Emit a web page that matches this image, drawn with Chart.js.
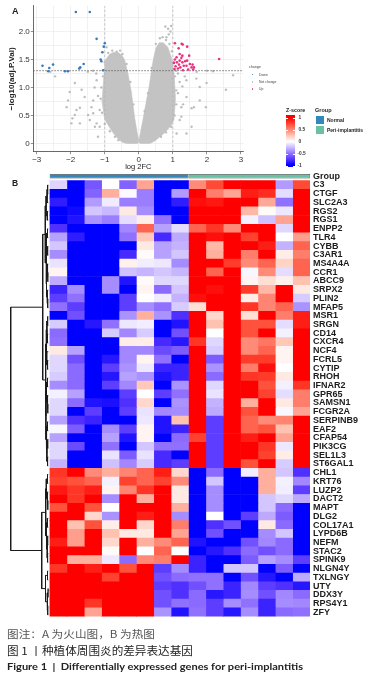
<!DOCTYPE html>
<html><head><meta charset="utf-8">
<script src="https://cdn.jsdelivr.net/npm/chart.js@4.4.1/dist/chart.umd.min.js"></script>
<style>
html,body{margin:0;padding:0;background:#fff;width:382px;height:679px;overflow:hidden;position:relative;font-family:"Liberation Sans",Arial,sans-serif}
canvas{position:absolute}
.t{position:absolute;white-space:nowrap;color:#222}
.fit{display:inline-block;transform-origin:left center}
</style></head><body>
<canvas id="volcano" width="382" height="175" style="left:0;top:0"></canvas>
<canvas id="dendro" width="50" height="465" style="left:0;top:160px"></canvas>
<canvas id="heat" width="382" height="465" style="left:0;top:160px"></canvas>

<div class="t" style="left:12px;top:5px;font:bold 9px 'Liberation Sans';line-height:12px">A</div>
<div class="t" style="left:12px;top:177px;font:bold 8.5px 'Liberation Sans';line-height:12px">B</div>

<!-- volcano legend -->
<div class="t" style="left:249px;top:65px;font:3.6px 'Liberation Sans';color:#444;line-height:4px">change</div>
<div class="t" style="left:251.5px;top:73.9px;width:1.6px;height:1.6px;border-radius:50%;background:#3a78b8"></div>
<div class="t" style="left:259px;top:72.7px;font:3.4px 'Liberation Sans';color:#444;line-height:4px">Down</div>
<div class="t" style="left:251.5px;top:81.2px;width:1.6px;height:1.6px;border-radius:50%;background:#bdbdbd"></div>
<div class="t" style="left:259px;top:80px;font:3.4px 'Liberation Sans';color:#444;line-height:4px">Not change</div>
<div class="t" style="left:251.5px;top:88.2px;width:1.6px;height:1.6px;border-radius:50%;background:#ee2f7e"></div>
<div class="t" style="left:259px;top:87px;font:3.4px 'Liberation Sans';color:#444;line-height:4px">Up</div>

<!-- z-score legend -->
<div class="t" style="left:286px;top:107px;font:bold 5.3px 'Liberation Sans';line-height:6px">Z-score</div>
<div class="t" style="left:286px;top:115px;width:9px;height:52px;background:linear-gradient(to bottom,#ff0000 0%,#ff0000 5%,#ff4a35 17%,#ff8a78 29%,#ffc8b8 40%,#ffffff 51%,#c8b8ff 63%,#9070ff 74%,#5030ff 86%,#0000ff 96%,#0000ff 100%)"></div>
<div id="zticks"></div>
<div class="t" style="left:315px;top:106.5px;font:bold 5.5px 'Liberation Sans';line-height:6px">Group</div>
<div class="t" style="left:315.7px;top:116px;width:8.3px;height:8.3px;background:#3288bd"></div>
<div class="t" style="left:327px;top:117px;font:bold 5px 'Liberation Sans';line-height:6px">Normal</div>
<div class="t" style="left:315.7px;top:125.7px;width:8.3px;height:8.3px;background:#66c2a5"></div>
<div class="t" style="left:327px;top:127px;font:bold 5px 'Liberation Sans';line-height:6px">Peri-implantitis</div>

<!-- captions -->
<div class="t" style="left:7.3px;top:627.5px;font:10.5px 'Noto Sans CJK SC';line-height:12px;color:#555"><span class="fit" data-w="148">图注：A 为火山图，B 为热图</span></div>
<div class="t" style="left:7.3px;top:644px;font:11px 'Noto Sans CJK SC';line-height:12px;color:#222"><span class="fit" data-w="186">图 1 丨种植体周围炎的差异表达基因</span></div>
<div class="t" style="left:7.3px;top:661px;font:bold 9.5px 'Lato';line-height:12px;color:#222"><span class="fit" data-w="296">Figure 1 &nbsp;|&nbsp; Differentially expressed genes for peri-implantitis</span></div>

<script>
// ---------------- Volcano data ----------------
const downGenes = [[-1.85,2.35],[-1.44,2.35],[-1.24,1.87],[-1.0,1.79],[-1.03,1.73],[-1.07,1.63],[-1.12,1.5],[-1.1,1.47],[-1.05,1.31],[-1.62,1.42],[-1.75,1.34],[-1.72,1.36],[-2.52,1.41],[-2.83,1.39],[-2.63,1.35],[-2.66,1.29],[-2.17,1.29],[-2.08,1.29]];
const upGenes = [[1.06,1.79],[1.26,1.78],[1.29,1.77],[1.42,1.73],[1.17,1.70],[1.2,1.6],[1.28,1.57],[1.48,1.57],[1.06,1.5],[1.12,1.45],[1.2,1.48],[1.28,1.45],[1.36,1.47],[1.42,1.48],[1.5,1.42],[1.58,1.41],[1.62,1.36],[1.6,1.32],[1.45,1.32],[1.3,1.31],[1.15,1.34],[1.08,1.38],[1.18,1.41],[1.32,1.39],[1.03,1.44],[1.11,1.54],[1.25,1.53],[1.4,1.39],[1.55,1.36],[2.36,1.51],[1.05,1.33],[1.22,1.36]];
const otherGenes = [[-2.46,1.2],[-1.88,1.08],[-2.03,0.92],[-2.08,0.77],[-2.12,0.65],[-1.95,0.45],[-1.68,0.96],[-1.59,0.83],[-1.39,0.65],[-1.49,0.51],[-1.24,1.13],[-1.34,0.77],[-1.15,0.6],[-1.15,0.3],[-1.83,0.6],[-1.73,0.36],[-1.29,0.3],[-1.2,0.12],[-1.98,0.36],[-1.73,0.64],[-1.88,0.51],[-1.44,0.42],[-1.24,0.36],[-1.34,0.54],[-1.3,1.0],[-1.2,0.85],[-1.25,1.25],[-2.6,1.28],[-1.5,1.28],[-1.35,1.3],
  [1.55,0.63],[1.62,0.65],[1.97,0.65],[2.56,0.96],[2.77,1.22],[2.18,1.29],[1.79,1.01],[1.4,0.83],[1.25,0.48],[1.55,0.3],[1.79,0.77],[1.69,1.16],[1.4,1.13],[1.28,1.02],[1.15,1.25],[1.35,1.2],[1.99,1.08],[1.4,0.18],[1.11,0.18],[1.2,0.42],[1.25,0.65],[1.15,0.9],[1.3,0.7],[1.2,1.1],[1.1,1.3],[2.0,1.3],[1.7,1.28],
  [-0.9,1.62],[-0.78,1.66],[-0.65,1.64],[-0.55,1.66],[-0.48,1.6],[-0.36,1.42],[-0.25,1.1],[-0.16,0.7],[-1.0,1.45],[-1.05,1.2],[-1.1,1.0],[-1.12,0.8],[-1.08,0.55],[-1.0,0.35],[-0.85,0.22],[-0.7,0.12],[-0.6,0.06],[-0.95,1.72],
  [0.5,1.78],[0.62,1.88],[0.7,1.9],[0.8,1.85],[0.9,1.78],[0.97,1.65],[1.02,1.45],[1.06,1.2],[1.1,0.95],[1.1,0.7],[1.05,0.5],[0.95,0.3],[0.8,0.2],[0.65,0.12],[0.38,1.35],[0.27,0.9],[0.17,0.58],[0.78,2.09],[0.86,2.05],[0.95,2.1],[0.93,2.0],[0.81,1.9],[0.88,1.95]];
// dense cloud outline
const leftWingX     = [-1.08,-1.02,-0.97,-0.85,-0.73,-0.6,-0.5,-0.42,-0.32,-0.22,-0.12,-0.05,0];
const leftWingUpper = [0.75,1.25,1.5,1.6,1.63,1.62,1.58,1.5,1.25,0.92,0.45,0.2,0.05];
const leftWingLower = [0.75,0.5,0.4,0.28,0.17,0.08,0.03,0.01,0,0,0,0,0.02];
const rightWingX     = [0,0.05,0.12,0.23,0.3,0.36,0.42,0.5,0.6,0.72,0.85,0.95,1.03,1.08];
const rightWingUpper = [0.05,0.2,0.42,0.78,1.0,1.25,1.48,1.7,1.8,1.8,1.72,1.55,1.3,0.8];
const rightWingLower = [0.02,0,0,0,0,0.01,0.03,0.06,0.11,0.17,0.25,0.33,0.42,0.8];
const fcCutoffs = [-1, 1];
const pCutoff = 1.301;
const xTickValues = [-3,-2.5,-2,-1.5,-1,-0.5,0,0.5,1,1.5,2,2.5,3];
const yTickValues = [0,0.25,0.5,0.75,1,1.25,1.5,1.75,2,2.25];

// ---------------- Heatmap data ----------------
const genes = ["C3","CTGF","SLC2A3","RGS2","RGS1","ENPP2","TLR4","CYBB","C3AR1","MS4A4A","CCR1","ABCC9","SRPX2","PLIN2","MFAP5","MSR1","SRGN","CD14","CXCR4","NCF4","FCRL5","CYTIP","RHOH","IFNAR2","GPR65","SAMSN1","FCGR2A","SERPINB9","EAF2","CFAP54","PIK3CG","SEL1L3","ST6GAL1","CHL1","KRT76","LUZP2","DACT2","MAPT","DLG2","COL17A1","LYPD6B","NEFM","STAC2","SPINK9","NLGN4Y","TXLNGY","UTY","DDX3Y","RPS4Y1","ZFY"];
const sampleGroups = ["Normal","Normal","Normal","Normal","Normal","Normal","Normal","Normal","Peri-implantitis","Peri-implantitis","Peri-implantitis","Peri-implantitis","Peri-implantitis","Peri-implantitis","Peri-implantitis"];
const zscores = [
[-0.15,-1,-0.6,0,-0.55,0.4,-1,-1,0.5,0.75,1,1,1,-0.35,0.75],
[-1,-1,-0.55,0.35,-0.02,-0.45,-1,-0.35,1,0.55,0.4,0.9,0.85,-0.12,1],
[-0.85,-1,-0.35,-0.07,-0.45,-0.45,-1,-0.85,0.95,0.92,1,1,0.38,-0.5,1],
[-1,-0.95,-0.2,-0.25,0.1,-0.4,-1,-1,1,1,1,0.32,0.02,-0.08,1],
[-1,-0.9,-0.38,-0.45,-0.12,0.08,-0.5,-1,1,1,1,-0.05,-0.22,0.4,1],
[-0.75,-1,-1,-1,-0.42,0.65,-0.33,-0.12,0.65,0.82,0.5,1,1,-0.14,1],
[-0.33,-0.85,-1,-1,-0.5,0.25,-0.78,-0.3,1,0.95,1,0.78,1,0,0.42],
[-0.2,-1,-1,-1,-1,0.1,-0.33,-0.27,1,0.32,1,1,0.9,-0.27,0.65],
[-0.4,-1,-1,-1,-0.78,0.02,-0.33,-0.2,1,0.35,1,0.55,1,0.08,0.55],
[-0.1,-1,-1,-1,0.06,-0.06,-0.08,-0.4,1,1,0.8,0.5,0.65,0.2,0.65],
[0.05,-1,-1,-1,-0.22,-0.26,-0.2,-0.26,1,0.65,1,-0.03,0.5,-0.12,0.65],
[-0.3,-1,-1,-0.4,-0.9,0.02,-0.14,-0.14,1,1,1,0.05,0.15,0.07,0.28],
[-0.82,-0.4,-1,-0.4,-1,0.05,-0.52,-0.2,1,0.95,1,0.8,0.32,1,0.1],
[-0.7,-0.5,-1,-1,-0.7,0,-0.07,-0.27,0.95,1,1,0.08,0.52,1,-0.18],
[-0.5,-0.7,-1,-1,-0.7,-0.4,-0.5,-0.18,0.15,1,1,0.82,0.52,0.65,-0.38],
[-1,-0.62,-1,-1,-0.38,0.35,-0.38,-0.75,1,0.18,1,0.15,1,0.55,0.9],
[-0.18,-1,-0.88,-0.5,-0.08,-0.06,-1,-0.9,1,0.28,1,0.72,0.72,-0.12,0.9],
[-0.52,-1,-1,-0.18,-0.42,-0.18,-1,-0.62,1,0,1,0.72,1,-0.05,1],
[-0.5,-1,-1,-1,0.08,0.08,-0.78,-0.88,0.82,-0.14,1,0.5,0.58,0.25,1],
[0.1,-0.33,-1,-1,-0.42,-0.42,-0.65,-0.58,1,-0.18,1,0.5,0.65,0.05,1],
[-0.14,-0.62,-1,-0.88,-0.42,0.05,-0.5,-1,1,-0.58,1,0.8,0.8,0.05,1],
[-0.14,-0.52,-1,-0.7,-0.38,-0.08,-0.82,-0.82,1,-0.38,1,0.55,0.95,0,1],
[-0.18,-0.52,-1,-0.88,-0.33,-0.38,-0.9,-0.82,1,-0.52,1,0.82,0.8,0.1,1],
[-0.4,-0.52,-1,-0.7,-0.42,0.25,-1,-0.38,1,-0.14,1,1,0.72,-0.05,0.82],
[-0.05,-0.33,-1,-1,-0.7,0,-0.7,-0.5,1,-0.1,1,1,0.78,-0.12,0.55],
[-0.14,-0.52,-0.9,-0.92,-0.75,0.18,-1,-0.38,1,-0.27,1,0.35,1,0.1,0.55],
[-0.14,-1,-0.7,-1,-0.7,-0.1,-0.42,-0.4,1,-0.3,1,0.72,1,-0.03,0.4],
[-0.33,-0.75,-0.82,-1,-1,-0.08,-0.9,0.28,1,-0.7,1,0.65,0.5,0.52,1],
[-0.03,-0.58,-1,-0.4,-0.7,0.05,-0.9,-0.82,1,-0.7,1,0.65,0.72,0.28,1],
[-0.33,-1,-1,-0.33,-0.9,0.05,-1,-0.52,0.78,-0.7,1,0.9,1,0.4,1],
[-0.14,-0.65,-1,-0.5,-1,-0.2,-0.5,-0.5,1,-0.7,1,1,0.82,-0.08,1],
[-0.14,-1,-1,-0.1,-0.58,-0.1,-0.78,-1,1,-0.7,1,1,0.78,0.08,1],
[-0.27,-1,-1,-0.22,-0.42,-0.18,-0.78,-0.7,1,-0.7,1,0.72,1,-0.18,1],
[0.82,1,0.5,0.35,0.52,0.65,0.9,0.18,-1,-0.52,-1,-0.06,0.35,-0.2,-0.75],
[0.78,0.72,0.65,-0.05,0.78,0.65,0.78,0.5,-1,-0.2,-1,-1,0.35,-0.05,-0.42],
[0.92,0.82,0.9,0.05,0.52,0.82,1,0.1,-1,-0.4,-1,-1,0.35,-0.06,-0.7],
[1,0.82,1,-0.4,1,0.35,1,0.1,-1,-0.4,-1,-1,-0.2,-0.14,-0.3],
[0.72,1,0.72,0,1,1,1,0.35,-1,-0.4,-1,-1,-0.2,-0.52,-1],
[1,1,0.18,-0.38,1,0.9,1,-0.4,-1,0,-1,-0.7,-0.3,-0.58,-1],
[1,0.28,0.72,0.08,1,0.18,1,0.55,-1,-0.75,-0.62,-1,0.1,-0.52,-1],
[1,0.42,1,0.28,0.1,0.1,1,0.4,-1,-0.62,-1,-1,-0.4,-0.2,-1],
[0.9,0.42,1,0.18,1,0.35,0.5,0.65,-0.9,-1,-1,-0.62,-0.42,-0.52,-1],
[1,1,1,0.02,1,0,0.65,0,-1,-0.88,-0.75,-0.52,-0.62,-0.52,-1],
[1,0.35,0.35,-0.08,-0.52,0.5,0.55,1,-0.82,-1,-1,-0.58,-0.33,-0.4,-0.7],
[0.82,1,0.9,1,0.72,1,-0.7,-0.4,-0.82,-1,-0.2,-0.2,-1,-0.58,-1],
[1,1,1,0.78,1,1,-0.62,-0.52,-0.5,-0.5,-1,-0.62,-0.88,-1,-0.3],
[1,1,1,1,1,1,-0.7,-0.75,-0.62,-0.5,-0.82,-0.42,-0.7,-0.75,-0.88],
[1,1,1,1,1,1,-0.62,-0.75,-0.52,-0.88,-0.82,-0.4,-0.62,-0.42,-0.52],
[1,1,0.82,1,1,1,-0.62,-0.5,-0.52,-0.7,-0.4,-0.5,-0.82,-0.4,-0.42],
[1,1,0.4,1,1,1,-0.38,-0.9,-0.5,-0.7,-0.88,-0.4,-0.82,-0.52,-0.5]
];
// row dendrogram: [height, left, right]; leaves = gene row index
const rowTree = [37.8,
  [5.8,
    [3.2,
      [2.4,[1.5,[0.8,0,1],2],[1.2,3,4]],
      [2.2,[2.0,[1.0,5,6],[0.8,7,8]],[2.0,[1.2,9,[0.6,10,11]],[1.5,12,[0.7,13,14]]]]],
    [3.0,
      [2.4,[1.6,[0.8,15,16],[1.0,17,18]],[1.8,19,[0.9,20,21]]],
      [2.6,[2.0,[1.0,22,23],[1.2,24,[0.6,25,26]]],[2.3,[1.0,27,28],[1.6,[0.7,29,30],[0.9,31,32]]]]]],
  [6.8,
    [2.8,[2.2,[1.0,33,34],[1.3,35,[0.6,36,37]]],[2.0,[1.1,38,39],[1.5,[0.8,40,41],[0.9,42,43]]]],
    [3.0,[1.0,44,45],[1.4,[0.5,46,47],[0.7,48,49]]]]];

// ---------------- helpers ----------------
const zStops = [[-1,[0,0,255]],[-0.75,[80,48,255]],[-0.5,[144,112,255]],[-0.25,[200,184,255]],[0,[255,255,255]],[0.25,[255,200,184]],[0.5,[255,138,120]],[0.75,[255,74,53]],[1,[255,0,0]]];
function zColor(z){
  z = Math.max(-1, Math.min(1, z));
  for (let i=0;i<zStops.length-1;i++){
    const [a,ca]=zStops[i],[b,cb]=zStops[i+1];
    if (z<=b){ const t=(z-a)/(b-a); const c=ca.map((v,k)=>Math.round(v+(cb[k]-v)*t)); return `rgb(${c[0]},${c[1]},${c[2]})`; }
  }
  return 'rgb(255,0,0)';
}
const pts = arr => arr.map(([x,y])=>({x,y}));
const line = (xs,ys) => xs.map((x,i)=>({x,y:ys[i]}));
Chart.defaults.font.family = "'Liberation Sans', Arial, sans-serif";
Chart.defaults.animation = false;

// ---------------- Volcano chart ----------------
const XMIN=-3.1, XMAX=3.07, YMIN=-0.146, YMAX=2.46;
const wingStyle = {type:'line', pointRadius:0, borderWidth:0.6, borderColor:'#c3c3c3', backgroundColor:'#c3c3c3', tension:0};
new Chart(document.getElementById('volcano'), {
  type:'scatter',
  data:{datasets:[
    {data:pts(upGenes), backgroundColor:'#ee2f7e', pointRadius:1.3, borderWidth:0},
    {data:pts(downGenes), backgroundColor:'#3a78b8', pointRadius:1.3, borderWidth:0},
    {type:'line', data:[{x:XMIN,y:pCutoff},{x:XMAX,y:pCutoff}], borderColor:'#555', borderWidth:0.8, borderDash:[1.5,1.5], pointRadius:0},
    {type:'line', data:[{x:fcCutoffs[0],y:YMIN},{x:fcCutoffs[0],y:YMAX}], borderColor:'#b0b0b0', borderWidth:0.7, borderDash:[2.5,2], pointRadius:0},
    {type:'line', data:[{x:fcCutoffs[1],y:YMIN},{x:fcCutoffs[1],y:YMAX}], borderColor:'#b0b0b0', borderWidth:0.7, borderDash:[2.5,2], pointRadius:0},
    {data:pts(otherGenes), backgroundColor:'#bdbdbd', pointRadius:1.2, borderWidth:0},
    Object.assign({data:line(leftWingX,leftWingUpper), fill:'+1'}, wingStyle),
    Object.assign({data:line(leftWingX,leftWingLower), fill:false}, wingStyle),
    Object.assign({data:line(rightWingX,rightWingUpper), fill:'+1'}, wingStyle),
    Object.assign({data:line(rightWingX,rightWingLower), fill:false}, wingStyle)
  ]},
  options:{
    responsive:false, events:[],
    layout:{padding:{top:4.7,right:138.7,left:0,bottom:0}},
    plugins:{legend:{display:false}, tooltip:{enabled:false}},
    scales:{
      x:{type:'linear', min:XMIN, max:XMAX,
        afterBuildTicks:s=>{s.ticks=xTickValues.map(v=>({value:v}));},
        afterFit:s=>{s.height=23.3;},
        ticks:{autoSkip:false, maxRotation:0, padding:1, color:'#333', font:{size:8},
          callback:v=>Number.isInteger(v)?String(v).replace('-','\u2212'):''},
        grid:{color:'#e8e8e8', lineWidth:0.6, tickLength:2.5, tickColor:c=>Number.isInteger(c.tick.value)?'#444':'rgba(0,0,0,0)'},
        border:{color:'#444', width:0.8},
        title:{display:true, text:'log 2FC', color:'#222', font:{size:7.5}, padding:{top:0,bottom:3.8}}},
      y:{type:'linear', min:YMIN, max:YMAX,
        afterBuildTicks:s=>{s.ticks=yTickValues.map(v=>({value:v}));},
        afterFit:s=>{s.width=33.3;},
        ticks:{autoSkip:false, padding:1, color:'#333', font:{size:8},
          callback:v=>(Math.abs(v*2-Math.round(v*2))<1e-6)?(v===0?'0':v.toFixed(1)):''},
        grid:{color:'#e8e8e8', lineWidth:0.6, tickLength:2.5, tickColor:c=>(Math.abs(c.tick.value*2-Math.round(c.tick.value*2))<1e-6)?'#444':'rgba(0,0,0,0)'},
        border:{color:'#444', width:0.8},
        title:{display:true, text:'\u2212log10(adj.P.Val)', color:'#222', font:{size:8, weight:'bold'}, padding:{top:7,bottom:0}}}
    }
  }
});

// ---------------- Heatmap chart ----------------
const rowLabels = ['Group', ...genes];
const nNormal = sampleGroups.filter(g=>g==='Normal').length;
const nCols = sampleGroups.length;
const heatSets = [
  {data:[[0,nNormal]], backgroundColor:'#3288bd', borderColor:'#4a4a4a', borderWidth:0.6, barPercentage:0.5},
  {data:[[nNormal,nCols]], backgroundColor:'#66c2a5', borderColor:'#4a4a4a', borderWidth:0.6, barPercentage:0.5}
];
for (let c=0;c<nCols;c++){
  heatSets.push({
    data:[null, ...zscores.map(()=>[c,c+1])],
    backgroundColor:['rgba(0,0,0,0)', ...zscores.map(r=>zColor(r[c]))],
    borderWidth:0, barPercentage:1
  });
}
new Chart(document.getElementById('heat'), {
  type:'bar',
  data:{labels:rowLabels, datasets:heatSets},
  options:{
    indexAxis:'y', responsive:false, events:[],
    layout:{padding:{left:49.5, top:11.9, bottom:5.7, right:0}},
    datasets:{bar:{grouped:false, categoryPercentage:1, borderSkipped:false}},
    plugins:{legend:{display:false}, tooltip:{enabled:false}},
    scales:{
      x:{type:'linear', min:0, max:nCols, display:false},
      y:{type:'category', position:'right',
        afterFit:s=>{s.width=72;},
        grid:{display:false, drawTicks:false}, border:{display:false},
        ticks:{autoSkip:false, padding:3, color:'#1c1c1c', font:{size:9, weight:'bold'}}}
    }
  }
});

// ---------------- Dendrogram chart ----------------
const segs = [];
function walk(node){
  if (typeof node === 'number') return {y:node, h:0};
  const [h,l,r] = node; const L = walk(l), R = walk(r);
  segs.push({x:L.h,y:L.y},{x:h,y:L.y},{x:h,y:R.y},{x:R.h,y:R.y},{x:NaN,y:NaN});
  return {y:(L.y+R.y)/2, h};
}
walk(rowTree);
new Chart(document.getElementById('dendro'), {
  type:'scatter',
  data:{datasets:[{data:segs, showLine:true, pointRadius:0, borderColor:'#1a1a1a', borderWidth:1, spanGaps:false}]},
  options:{
    responsive:false, events:[],
    layout:{padding:{left:0, right:1.5, top:11.9, bottom:5.7}},
    plugins:{legend:{display:false}, tooltip:{enabled:false}},
    scales:{
      x:{type:'linear', min:0, max:48.5, reverse:true, display:false},
      y:{type:'linear', min:-1.5, max:genes.length-0.5, reverse:true, display:false}
    }
  }
});

// z-score legend ticks and labels
const zLegendTicks = [1,0.5,0,-0.5,-1];
const zt = document.getElementById('zticks');
zLegendTicks.forEach(v=>{
  const y = 142 - v*23.8;
  zt.insertAdjacentHTML('beforeend',
    `<div class="t" style="left:286px;top:${y-0.3}px;width:1.8px;height:0.6px;background:#fff"></div>`+
    `<div class="t" style="left:293.2px;top:${y-0.3}px;width:1.8px;height:0.6px;background:#fff"></div>`+
    `<div class="t" style="left:${v<0?297.5:298.5}px;top:${y-3}px;font:bold 4.8px 'Liberation Sans';line-height:6px;color:#333">${v===0?'0':String(v).replace('-','-')}</div>`);
});

// fit caption widths
document.querySelectorAll('.fit').forEach(el=>{
  const w = el.getBoundingClientRect().width;
  el.style.transform = `scaleX(${(+el.dataset.w)/w})`;
});
</script>
</body></html>
